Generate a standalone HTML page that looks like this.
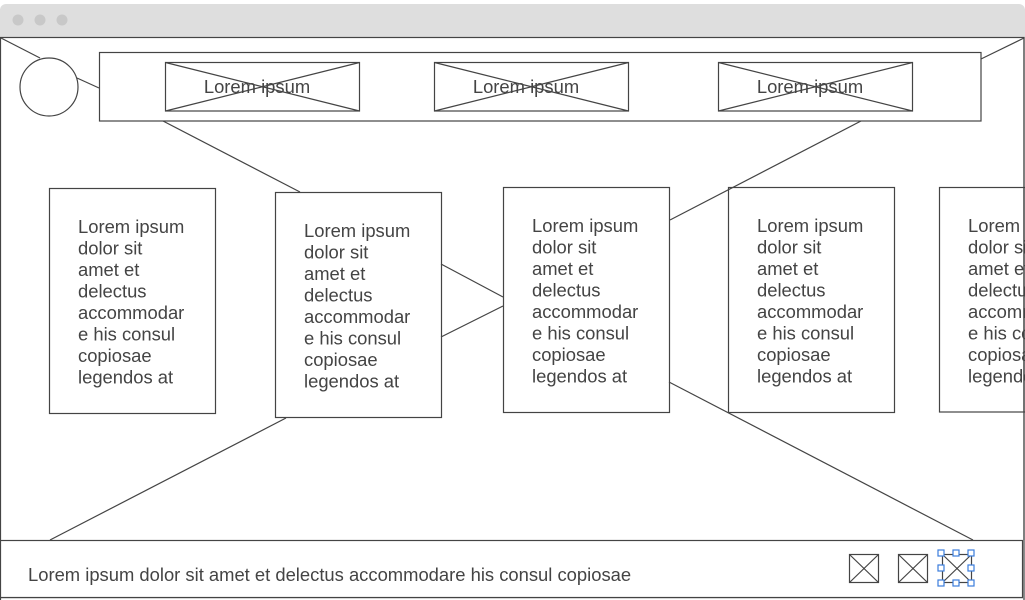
<!DOCTYPE html>
<html><head><meta charset="utf-8"><style>
html,body{margin:0;padding:0;background:#fff;width:1025px;height:600px;overflow:hidden}
svg{display:block}
text{font-family:"Liberation Sans",Arial,sans-serif;fill:#444}
</style></head><body>
<svg width="1025" height="600" viewBox="0 0 1025 600" xmlns="http://www.w3.org/2000/svg">
<rect x="0" y="0" width="1025" height="600" fill="#fff"/>
<rect x="0" y="4" width="1025" height="34" rx="6" fill="#dedede"/>
<rect x="0" y="20" width="1025" height="18" fill="#dedede"/>
<circle cx="18" cy="20" r="5.5" fill="#c8c8c8"/>
<circle cx="40" cy="20" r="5.5" fill="#c8c8c8"/>
<circle cx="62" cy="20" r="5.5" fill="#c8c8c8"/>
<g stroke="#e6e6e6" stroke-width="1">
<line x1="0" y1="598.5" x2="1025" y2="598.5"/>
</g>
<g fill="none" stroke="#444" stroke-width="1.2">
<rect x="0.5" y="37.5" width="1023.5" height="570"/>
<line x1="1" y1="38" x2="40" y2="58"/>
<circle cx="49" cy="87" r="29"/>
<line x1="77" y1="78" x2="99" y2="88"/>
<rect x="99.5" y="52.5" width="881.5" height="68.5" fill="#fff"/>
<line x1="981" y1="59" x2="1024" y2="38"/>
<rect x="165.5" y="62.5" width="194" height="48.5"/>
<line x1="165.5" y1="62.5" x2="359.5" y2="111"/><line x1="359.5" y1="62.5" x2="165.5" y2="111"/>
<rect x="434.5" y="62.5" width="194" height="48.5"/>
<line x1="434.5" y1="62.5" x2="628.5" y2="111"/><line x1="628.5" y1="62.5" x2="434.5" y2="111"/>
<rect x="718.5" y="62.5" width="194" height="48.5"/>
<line x1="718.5" y1="62.5" x2="912.5" y2="111"/><line x1="912.5" y1="62.5" x2="718.5" y2="111"/>
<line x1="163" y1="121" x2="300" y2="192"/>
<line x1="861" y1="121" x2="670" y2="220"/>
<line x1="441" y1="264" x2="503" y2="297"/>
<line x1="441" y1="337" x2="503" y2="306"/>
<line x1="286" y1="418" x2="50" y2="540"/>
<line x1="669" y1="382" x2="973" y2="540"/>
<rect x="49.5" y="188.5" width="166" height="225"/>
<rect x="275.5" y="192.5" width="166" height="225"/>
<rect x="503.5" y="187.5" width="166" height="225"/>
<rect x="728.5" y="187.5" width="166" height="225"/>
<rect x="939.5" y="187.5" width="120" height="224.5"/>
<rect x="0.5" y="540.5" width="1022" height="57" fill="#fff"/>
<rect x="849.5" y="554.5" width="29" height="28"/>
<line x1="849.5" y1="554.5" x2="878.5" y2="582.5"/><line x1="878.5" y1="554.5" x2="849.5" y2="582.5"/>
<rect x="898.5" y="554.5" width="29" height="28"/>
<line x1="898.5" y1="554.5" x2="927.5" y2="582.5"/><line x1="927.5" y1="554.5" x2="898.5" y2="582.5"/>
<rect x="942.5" y="554.5" width="29" height="28"/>
<line x1="942.5" y1="554.5" x2="971.5" y2="582.5"/><line x1="971.5" y1="554.5" x2="942.5" y2="582.5"/>
</g>
<line x1="1024" y1="38" x2="1024" y2="540" stroke="#444" stroke-width="1.2"/>
<g fill="#fff" stroke="#3b7ddd" stroke-width="1.2">
<rect x="938" y="550" width="6" height="6"/><rect x="953" y="550" width="6" height="6"/><rect x="968" y="550" width="6" height="6"/>
<rect x="938" y="565" width="6" height="6"/><rect x="968" y="565" width="6" height="6"/>
<rect x="938" y="580" width="6" height="6"/><rect x="953" y="580" width="6" height="6"/><rect x="968" y="580" width="6" height="6"/>
</g>
<g font-size="18.4">
<text x="257" y="93" text-anchor="middle">Lorem ipsum</text>
<text x="526" y="93" text-anchor="middle">Lorem ipsum</text>
<text x="810" y="93" text-anchor="middle">Lorem ipsum</text>
</g>
<g font-size="18.4">
<text x="78" y="233"><tspan x="78">Lorem ipsum</tspan><tspan x="78" dy="21.5">dolor sit</tspan><tspan x="78" dy="21.5">amet et</tspan><tspan x="78" dy="21.5">delectus</tspan><tspan x="78" dy="21.5">accommodar</tspan><tspan x="78" dy="21.5">e his consul</tspan><tspan x="78" dy="21.5">copiosae</tspan><tspan x="78" dy="21.5">legendos at</tspan></text>
<text x="304" y="237"><tspan x="304">Lorem ipsum</tspan><tspan x="304" dy="21.5">dolor sit</tspan><tspan x="304" dy="21.5">amet et</tspan><tspan x="304" dy="21.5">delectus</tspan><tspan x="304" dy="21.5">accommodar</tspan><tspan x="304" dy="21.5">e his consul</tspan><tspan x="304" dy="21.5">copiosae</tspan><tspan x="304" dy="21.5">legendos at</tspan></text>
<text x="532" y="232"><tspan x="532">Lorem ipsum</tspan><tspan x="532" dy="21.5">dolor sit</tspan><tspan x="532" dy="21.5">amet et</tspan><tspan x="532" dy="21.5">delectus</tspan><tspan x="532" dy="21.5">accommodar</tspan><tspan x="532" dy="21.5">e his consul</tspan><tspan x="532" dy="21.5">copiosae</tspan><tspan x="532" dy="21.5">legendos at</tspan></text>
<text x="757" y="232"><tspan x="757">Lorem ipsum</tspan><tspan x="757" dy="21.5">dolor sit</tspan><tspan x="757" dy="21.5">amet et</tspan><tspan x="757" dy="21.5">delectus</tspan><tspan x="757" dy="21.5">accommodar</tspan><tspan x="757" dy="21.5">e his consul</tspan><tspan x="757" dy="21.5">copiosae</tspan><tspan x="757" dy="21.5">legendos at</tspan></text>
<text x="968" y="232"><tspan x="968">Lorem ipsum</tspan><tspan x="968" dy="21.5">dolor sit</tspan><tspan x="968" dy="21.5">amet et</tspan><tspan x="968" dy="21.5">delectus</tspan><tspan x="968" dy="21.5">accommodar</tspan><tspan x="968" dy="21.5">e his consul</tspan><tspan x="968" dy="21.5">copiosae</tspan><tspan x="968" dy="21.5">legendos at</tspan></text>
<text x="28" y="581">Lorem ipsum dolor sit amet et delectus accommodare his consul copiosae</text>
</g>
<line x1="1024" y1="187" x2="1024" y2="412" stroke="#444" stroke-width="1.2"/>
</svg>
</body></html>
